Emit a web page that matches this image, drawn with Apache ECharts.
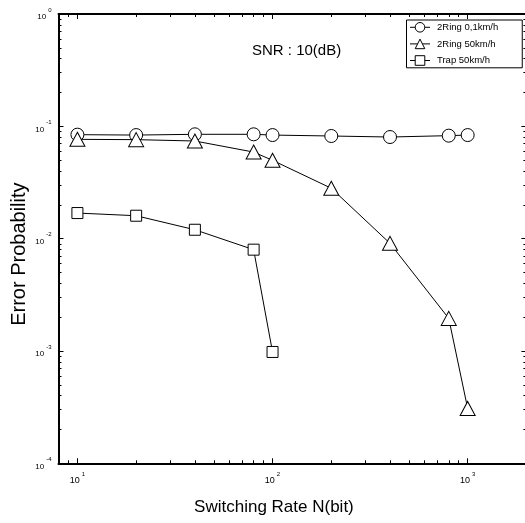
<!DOCTYPE html>
<html>
<head>
<meta charset="utf-8">
<script src="https://cdn.jsdelivr.net/npm/echarts@6/dist/echarts.min.js"></script>
<style>
html,body{margin:0;padding:0;background:#fff;}
#main{width:525px;height:523px;}
</style>
</head>
<body>
<div id="main"></div>
<script>
// ---- data ----
const xValues = [10, 20, 40, 80, 100, 200, 400, 800, 1000];
const ring01 = [0.0843, 0.0836, 0.0849, 0.0849, 0.0836, 0.0820, 0.0803, 0.0826, 0.0836];
const ring50 = [0.0766, 0.0761, 0.0740, 0.0590, 0.0498, 0.0281, 0.00908, 0.00195, 0.000308];
const trapX = [10, 20, 40, 80, 100];
const trap50 = [0.0169, 0.0160, 0.0120, 0.00798, 0.00098];
const seriesNames = ['2Ring 0,1km/h', '2Ring 50km/h', 'Trap 50km/h'];

const xTickValues = [10, 100, 1000];
const yTickValues = [1, 0.1, 0.01, 0.001, 0.0001];
const xMinorTicks = [9, 20, 30, 40, 50, 60, 70, 80, 90, 200, 300, 400, 500, 600, 700, 800, 900];
const yMinorTicks = [0.0002, 0.0003, 0.0004, 0.0005, 0.0006, 0.0007, 0.0008, 0.0009,
  0.002, 0.003, 0.004, 0.005, 0.006, 0.007, 0.008, 0.009,
  0.02, 0.03, 0.04, 0.05, 0.06, 0.07, 0.08, 0.09,
  0.2, 0.3, 0.4, 0.5, 0.6, 0.7, 0.8, 0.9];
const xAxisName = 'Switching Rate N(bit)';
const yAxisName = 'Error Probability';
const noteText = 'SNR : 10(dB)';

// ---- chart ----
const FONT = '"Liberation Sans", Arial, Helvetica, sans-serif';
const chart = echarts.init(document.getElementById('main'), null, {renderer: 'canvas'});

function powLabel(v) {
  return '{b|10}{e|' + Math.round(Math.log10(v)) + '}';
}
const richLbl = (bs) => ({
  b: {fontSize: bs, fontFamily: FONT, color: '#000', verticalAlign: 'bottom', lineHeight: 14},
  e: {fontSize: 6, fontFamily: FONT, color: '#000', verticalAlign: 'top', lineHeight: 14, padding: [0, 0, 0, 2]}
});

const XMIN = 8, XMAX = 2000, YMIN = 0.0001, YMAX = 1;
const lineW = 2;

function xAx(pos, major, extra) {
  return Object.assign({
    type: 'log', logBase: 10, min: XMIN, max: XMAX, position: pos,
    axisLine: {show: major && true, lineStyle: {color: '#000', width: lineW}},
    axisTick: {show: true, inside: true, length: major ? 5 : 3,
      customValues: major ? xTickValues : xMinorTicks,
      lineStyle: {color: '#000', width: 1}},
    axisLabel: {show: false},
    splitLine: {show: false}
  }, extra || {});
}
function yAx(pos, major, extra) {
  return Object.assign({
    type: 'log', logBase: 10, min: YMIN, max: YMAX, position: pos,
    axisLine: {show: major && true, lineStyle: {color: '#000', width: lineW}},
    axisTick: {show: true, inside: true, length: major ? 5 : 3,
      customValues: major ? yTickValues : yMinorTicks,
      lineStyle: {color: '#000', width: 1}},
    axisLabel: {show: false},
    splitLine: {show: false}
  }, extra || {});
}

const symStyle = {color: '#fff', borderColor: '#000', borderWidth: 1};
const lnStyle = {color: '#000', width: 1};

const option = {
  backgroundColor: '#fff',
  animation: false,
  grid: {left: 58.5, right: -1.4, top: 14, bottom: 59.7, outerBoundsMode: 'none', containLabel: false},
  legend: {
    orient: 'vertical', left: 406.5, top: 20,
    padding: [2, 24, 2, 3],
    itemWidth: 20, itemHeight: 12, itemGap: 6,
    backgroundColor: '#fff', borderColor: '#000', borderWidth: 1, borderRadius: 0,
    itemStyle: {color: '#fff', borderColor: '#000', borderWidth: 1},
    lineStyle: {color: '#000', width: 1},
    textStyle: {fontSize: 9.5, fontFamily: FONT, color: '#000', padding: [0, 0, 0, 2]},
    data: seriesNames
  },
  graphic: [{
    type: 'text', left: 252, top: 43,
    style: {text: noteText, font: '15px ' + FONT, fill: '#000'}
  }],
  xAxis: [
    xAx('bottom', true, {
      name: xAxisName, nameLocation: 'middle', nameGap: 36,
      nameTextStyle: {fontSize: 17, fontFamily: FONT, color: '#000', padding: [0, 37, 0, 0]},
      axisLabel: {show: true, margin: 8, customValues: xTickValues, formatter: powLabel, rich: richLbl(9)}
    }),
    xAx('bottom', false),
    xAx('top', true),
    xAx('top', false)
  ],
  yAxis: [
    yAx('left', true, {
      name: yAxisName, nameLocation: 'middle', nameGap: 29, nameMoveOverlap: false,
      nameTextStyle: {fontSize: 20, fontFamily: FONT, color: '#000', padding: [0, 31, 0, 0]},
      axisLabel: {show: true, margin: 7, customValues: yTickValues, formatter: powLabel, rich: richLbl(8)}
    }),
    yAx('left', false),
    yAx('right', true),
    yAx('right', false)
  ],
  series: [
    {
      name: seriesNames[0], type: 'line', xAxisIndex: 0, yAxisIndex: 0,
      data: xValues.map((x, i) => [x, ring01[i]]),
      symbol: 'circle', symbolSize: 13, showAllSymbol: true,
      lineStyle: lnStyle, itemStyle: symStyle, z: 3
    },
    {
      name: seriesNames[1], type: 'line', xAxisIndex: 0, yAxisIndex: 0,
      data: xValues.map((x, i) => [x, ring50[i]]),
      symbol: 'triangle', symbolSize: [15, 14], showAllSymbol: true,
      lineStyle: lnStyle, itemStyle: symStyle, z: 4
    },
    {
      name: seriesNames[2], type: 'line', xAxisIndex: 0, yAxisIndex: 0,
      data: trapX.map((x, i) => [x, trap50[i]]),
      symbol: 'rect', symbolSize: 11, showAllSymbol: true,
      lineStyle: lnStyle, itemStyle: symStyle, z: 5
    }
  ]
};
chart.setOption(option);
</script>
</body>
</html>
